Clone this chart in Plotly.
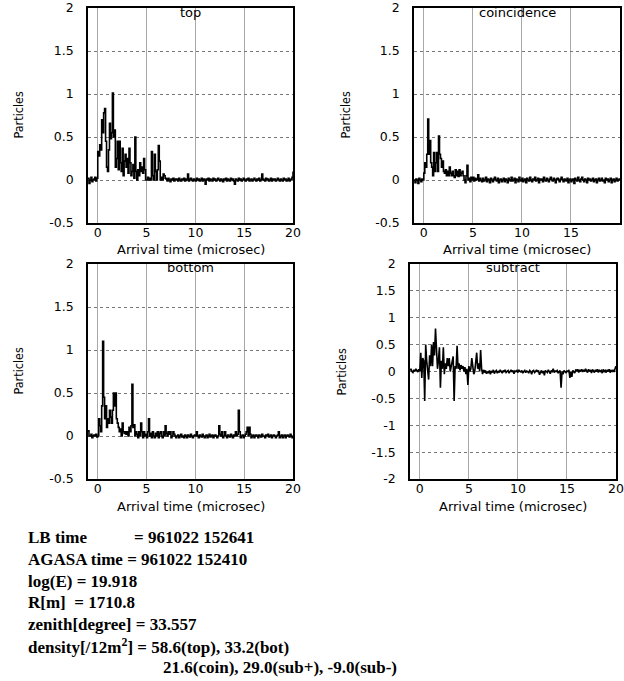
import plotly.graph_objects as go

W, H = 624, 681

# Sampling grid: 0.1 microsec bins starting at -1.0 microsec
T0, DT = -1.0, 0.1

# ---- particle traces (one row = 1 microsec) ----
top = [
    0.02, -0.04, 0.0, 0.03, -0.02, 0.0, 0.01, 0.03, -0.01, 0.02,
    0.33, 0.28, 0.41, 0.35, 0.70, 0.55, 0.78, 0.83, 0.45, 0.15,
    0.10, 0.35, 0.66, 0.48, 0.55, 1.01, 0.50, 0.58, 0.15, 0.25,
    0.45, 0.12, 0.45, 0.20, 0.10, 0.37, 0.05, 0.22, 0.30, 0.15,
    0.25, 0.08, 0.37, 0.20, 0.05, 0.10, 0.18, 0.02, 0.50, 0.10,
    0.0, 0.12, 0.05, 0.20, 0.10, 0.15, 0.08, 0.25, 0.12, 0.0,
    0.0, 0.03, 0.0, 0.02, 0.0, 0.33, 0.05, 0.0, 0.30, 0.10,
    0.0, 0.12, 0.40, 0.22, 0.0, 0.03, 0.0, 0.07, 0.05, 0.02,
    0.01, -0.01, 0.02, 0.0, -0.02, 0.01, 0.0, 0.02, -0.01, 0.01,
    0.0, 0.01, -0.01, 0.02, 0.0, -0.01, 0.01, 0.0, 0.02, -0.01,
    0.01, 0.0, 0.07, -0.01, 0.01, 0.02, 0.0, -0.01, 0.01, 0.0,
    -0.01, 0.02, 0.0, 0.01, -0.01, 0.0, 0.02, -0.01, 0.01, 0.0,
    -0.05, 0.01, 0.0, 0.02, -0.01, 0.01, 0.0, -0.01, 0.02, 0.0,
    0.01, -0.01, 0.0, 0.02, 0.0, -0.01, 0.01, 0.0, -0.02, 0.01,
    0.0, 0.02, -0.01, 0.01, 0.0, -0.01, 0.02, 0.0, 0.01, -0.01,
    -0.05, 0.01, 0.0, -0.01, 0.02, 0.0, 0.01, -0.01, 0.0, 0.02,
    0.0, -0.01, 0.01, 0.0, 0.02, -0.01, 0.0, 0.01, -0.01, 0.0,
    0.02, 0.0, -0.01, 0.01, 0.0, 0.02, -0.01, 0.0, 0.07, 0.01,
    0.0, -0.01, 0.02, 0.0, 0.01, -0.01, 0.0, 0.02, -0.01, 0.01,
    0.0, 0.01, -0.01, 0.0, 0.02, 0.0, -0.01, 0.01, 0.0, -0.01,
    0.02, 0.0, 0.01, -0.01, 0.0, 0.02, -0.01, 0.0, 0.01, 0.03,
    0.10,
]

coincidence = [
    0.0, -0.03, 0.01, 0.0, -0.04, 0.02, 0.0, -0.02, 0.01, 0.0,
    0.08, 0.20, 0.15, 0.30, 0.71, 0.30, 0.46, 0.20, 0.15, 0.05,
    0.32, 0.10, 0.20, 0.32, 0.10, 0.51, 0.30, 0.25, 0.15, 0.22,
    0.10, 0.08, 0.12, 0.05, 0.10, 0.05, 0.15, 0.08, 0.05, 0.10,
    0.05, 0.03, 0.12, 0.05, 0.10, 0.04, 0.12, 0.05, 0.08, 0.10,
    0.05, 0.0, -0.03, 0.05, 0.17, 0.0, 0.02, -0.02, 0.03, 0.0,
    0.03, -0.01, 0.02, 0.0, 0.01, 0.06, -0.01, 0.02, 0.0, -0.02,
    0.02, -0.01, 0.0, 0.03, -0.02, 0.01, 0.0, -0.03, 0.02, 0.0,
    -0.02, 0.01, 0.03, 0.0, -0.01, 0.02, -0.03, 0.0, 0.01, -0.02,
    0.0, 0.02, -0.02, 0.01, 0.0, -0.03, 0.02, 0.0, -0.01, 0.03,
    -0.01, 0.0, 0.02, -0.03, 0.01, 0.0, -0.02, 0.03, 0.0, -0.01,
    0.02, -0.02, 0.0, 0.01, -0.03, 0.02, 0.0, -0.01, 0.03, 0.0,
    -0.02, 0.01, 0.0, 0.03, -0.01, 0.0, 0.02, -0.03, 0.01, 0.0,
    0.01, -0.02, 0.03, 0.0, -0.01, 0.02, 0.0, -0.02, 0.01, 0.03,
    0.0, -0.01, 0.02, 0.0, -0.03, 0.01, 0.02, 0.0, -0.02, 0.01,
    0.03, 0.0, -0.02, 0.01, 0.0, -0.01, 0.02, -0.03, 0.0, 0.01,
    -0.02, 0.0, 0.01, -0.04, 0.02, 0.0, -0.01, 0.03, 0.0, -0.02,
    0.01, 0.03, 0.0, -0.02, 0.01, 0.0, -0.03, 0.02, 0.0, 0.01,
    -0.01, 0.0, 0.02, -0.02, 0.0, 0.01, -0.03, 0.0, 0.02, -0.01,
    0.0, 0.02, -0.01, 0.0, -0.03, 0.02, 0.0, 0.01, -0.02, 0.0,
    0.02, -0.03, 0.0, 0.01, -0.02, 0.0, 0.02, -0.01, 0.0, 0.01,
    0.0,
]

bottom = [
    0.06, 0.0, 0.0, 0.02, -0.02, 0.0, 0.01, 0.0, 0.02, -0.01,
    0.0, 0.20, 0.12, 0.05, 0.35, 1.10, 0.45, 0.20, 0.35, 0.10,
    0.20, 0.15, 0.30, 0.22, 0.15, 0.30, 0.50, 0.35, 0.50, 0.20,
    0.15, 0.10, 0.05, 0.08, 0.0, 0.15, 0.05, 0.03, 0.05, 0.02,
    0.05, 0.0, 0.10, 0.05, 0.12, 0.60, 0.10, 0.13, 0.0, 0.05,
    0.02, -0.02, 0.05, 0.0, 0.15, 0.05, -0.02, 0.05, 0.0, 0.02,
    -0.02, 0.05, 0.20, 0.0, 0.03, -0.02, 0.05, 0.0, -0.02, 0.03,
    0.0, 0.05, -0.02, 0.03, 0.05, 0.0, -0.02, 0.05, 0.0, 0.12,
    0.03, 0.0, 0.05, 0.02, 0.05, -0.02, 0.0, 0.05, 0.02, 0.0,
    -0.02, 0.0, 0.01, -0.02, 0.0, 0.02, -0.01, 0.0, -0.02, 0.01,
    0.0, -0.02, 0.01, 0.0, -0.01, 0.02, 0.0, -0.02, 0.0, 0.01,
    0.0, 0.05, 0.0, -0.02, 0.01, 0.0, -0.01, 0.02, 0.0, -0.02,
    0.0, 0.01, -0.02, 0.0, 0.02, -0.01, 0.0, 0.01, -0.02, 0.0,
    0.01, 0.0, -0.02, 0.0, 0.12, 0.02, 0.0, 0.05, -0.02, 0.0,
    0.05, 0.0, -0.02, 0.01, 0.0, -0.01, 0.02, 0.0, -0.02, 0.01,
    0.0, 0.05, 0.0, 0.02, 0.30, 0.05, -0.02, 0.0, 0.01, -0.02,
    0.0, 0.02, 0.05, 0.10, 0.0, 0.10, 0.02, -0.02, 0.0, 0.01,
    -0.02, 0.0, 0.01, 0.0, -0.02, 0.01, 0.0, -0.01, 0.02, 0.0,
    0.0, -0.02, 0.01, 0.0, 0.02, -0.01, 0.0, 0.01, -0.02, 0.0,
    0.01, 0.0, -0.02, 0.0, 0.01, 0.05, -0.02, 0.0, 0.01, -0.02,
    0.0, 0.01, -0.02, 0.0, 0.01, 0.0, -0.01, 0.02, 0.0, -0.02,
    0.0,
]

subtract = [
    0.02, 0.05, 0.0, -0.02, 0.03, 0.0, 0.05, 0.02, -0.01, 0.04,
    0.0, 0.35, -0.12, 0.25, 0.20, -0.55, 0.50, 0.20, 0.05, -0.15,
    0.30, 0.10, 0.50, 0.10, 0.55, 0.30, 0.80, 0.30, 0.05, 0.20,
    0.45, -0.30, 0.20, 0.05, 0.45, -0.05, 0.15, 0.05, 0.25, 0.10,
    0.25, 0.00, 0.10, 0.25, 0.28, -0.55, 0.10, 0.05, 0.48, 0.05,
    0.15, 0.02, 0.12, 0.05, 0.10, 0.0, 0.08, -0.05, 0.05, -0.25,
    0.10, 0.0, 0.05, 0.25, 0.05, -0.05, 0.0, 0.15, 0.35, 0.05,
    0.15, 0.0, 0.40, 0.05, -0.05, 0.03, -0.02, 0.02, -0.04, 0.0,
    -0.03, 0.02, -0.05, 0.01, -0.02, 0.03, -0.04, 0.0, 0.02, -0.03,
    0.01, -0.02, 0.03, 0.0, -0.03, 0.02, -0.01, 0.03, -0.02, 0.0,
    0.02, -0.03, 0.0, 0.03, -0.01, 0.02, -0.04, 0.01, 0.0, 0.02,
    -0.02, 0.03, 0.0, -0.01, 0.02, -0.03, 0.0, 0.02, -0.02, 0.01,
    0.0, -0.03, 0.02, 0.0, -0.05, 0.01, 0.02, -0.02, 0.0, 0.03,
    -0.01, 0.02, -0.06, 0.0, 0.02, -0.03, 0.01, -0.07, 0.02, 0.0,
    -0.02, 0.03, 0.0, -0.04, 0.02, 0.0, 0.05, -0.02, 0.01, 0.0,
    0.02, -0.03, 0.0, 0.02, -0.30, 0.0, -0.05, 0.02, 0.0, -0.02,
    0.01, 0.0, 0.03, -0.12, 0.0, -0.10, 0.02, 0.0, -0.03, 0.04,
    0.0, 0.04, -0.02, 0.03, 0.0, 0.04, -0.01, 0.03, 0.0, 0.05,
    0.02, -0.02, 0.04, 0.0, 0.03, -0.03, 0.04, 0.01, -0.02, 0.03,
    0.0, 0.04, -0.02, 0.03, 0.0, 0.02, -0.03, 0.04, 0.0, 0.02,
    -0.02, 0.03, 0.0, 0.04, -0.02, 0.02, 0.0, 0.03, -0.01, 0.05,
    0.10,
]

panel_titles = ["top", "coincidence", "bottom", "subtract"]
x_ticks = [0, 5, 10, 15, 20]
y_ticks_std = [-0.5, 0, 0.5, 1, 1.5, 2]
y_ticks_sub = [-2, -1.5, -1, -0.5, 0, 0.5, 1, 1.5, 2]

info_lines = [
    "log(E) = 19.918",
    "R[m]  = 1710.8",
    "zenith[degree] = 33.557",
    "density[/12m<sup>2</sup>] = 58.6(top), 33.2(bot)",
]

# panel frames in pixels: (left, right, top, bottom)
frames = [(88, 293, 8, 223), (414, 620, 8, 223), (88, 293, 264, 479), (410, 616, 264, 479)]
series = [top, coincidence, bottom, subtract]
shapes = ["hv", "hv", "hv", "linear"]
yranges = [(-0.5, 2), (-0.5, 2), (-0.5, 2), (-2, 2)]
yticks = [y_ticks_std, y_ticks_std, y_ticks_std, y_ticks_sub]

def px(x):
    return x / W

def py(y):
    return 1 - y / H

TICK_FONT = dict(family="DejaVu Sans", size=12.5, color="black")
LABEL_FONT = dict(family="DejaVu Sans", size=13, color="black")

fig = go.Figure()
annotations = []

for i, (vals, (l, r, t, b)) in enumerate(zip(series, frames)):
    n = i + 1
    xa = "x" if n == 1 else f"x{n}"
    ya = "y" if n == 1 else f"y{n}"
    times = [round(T0 + k * DT, 1) for k in range(len(vals))]
    fig.add_trace(go.Scatter(
        x=times, y=vals, mode="lines", line=dict(color="black", width=1.6, shape=shapes[i]),
        xaxis=xa, yaxis=ya, showlegend=False, hoverinfo="skip",
    ))
    xkey = "xaxis" if n == 1 else f"xaxis{n}"
    ykey = "yaxis" if n == 1 else f"yaxis{n}"
    fig.update_layout(**{
        xkey: dict(
            domain=[px(l), px(r)], anchor=ya, range=[-1, 20], tickvals=x_ticks,
            showline=True, mirror=True, linecolor="black", linewidth=1.5,
            showgrid=True, gridcolor="#a8a8a8", gridwidth=1, zeroline=False,
            ticks="", tickfont=TICK_FONT, ticklabelstandoff=-3, automargin=False,
        ),
        ykey: dict(
            domain=[py(b), py(t)], anchor=xa, range=list(yranges[i]), tickvals=yticks[i],
            ticktext=[f"{v:g}" for v in yticks[i]],
            showline=True, mirror=True, linecolor="black", linewidth=1.5,
            showgrid=True, gridcolor="#777777", gridwidth=1, griddash="dot", zeroline=False,
            ticks="", tickfont=TICK_FONT, ticklabelstandoff=10, automargin=False,
        ),
    })
    cx = (l + r) / 2
    # title inside the frame
    annotations.append(dict(x=px(cx), y=py(t + 4), xref="paper", yref="paper",
                            text=panel_titles[i], showarrow=False, xanchor="center",
                            yanchor="middle", font=LABEL_FONT))
    # x axis title
    annotations.append(dict(x=px(cx), y=py(b + 27), xref="paper", yref="paper",
                            text="Arrival time (microsec)", showarrow=False,
                            xanchor="center", yanchor="middle", font=LABEL_FONT))
    # y axis title
    ylab_x = 18 if l < 200 else l - 69
    annotations.append(dict(x=px(ylab_x), y=py((t + b) / 2), xref="paper", yref="paper",
                            text="Particles", showarrow=False, textangle=-90,
                            xanchor="center", yanchor="middle",
                            font=dict(family="Liberation Sans Narrow, DejaVu Sans Condensed",
                                      size=12.5, color="black")))

# event summary block
SERIF = dict(family="Liberation Serif", size=17, color="black")
def info(x, y, txt):
    annotations.append(dict(x=px(x), y=py(y), xref="paper", yref="paper", text=f"<b>{txt}</b>",
                            showarrow=False, xanchor="left", yanchor="middle", font=SERIF))

info(26, 537, "LB time")
info(132, 537, "= 961022 152641")
info(26, 559, "AGASA time = 961022 152410")
for k, line in enumerate(info_lines):
    info(26, 581 + k * 21.5, line)
info(161, 667, "21.6(coin), 29.0(sub+), -9.0(sub-)")

fig.update_layout(
    width=W, height=H, margin=dict(l=0, r=0, t=0, b=0, autoexpand=False),
    paper_bgcolor="white", plot_bgcolor="white",
    annotations=annotations,
)

fig.write_html("out.html")
